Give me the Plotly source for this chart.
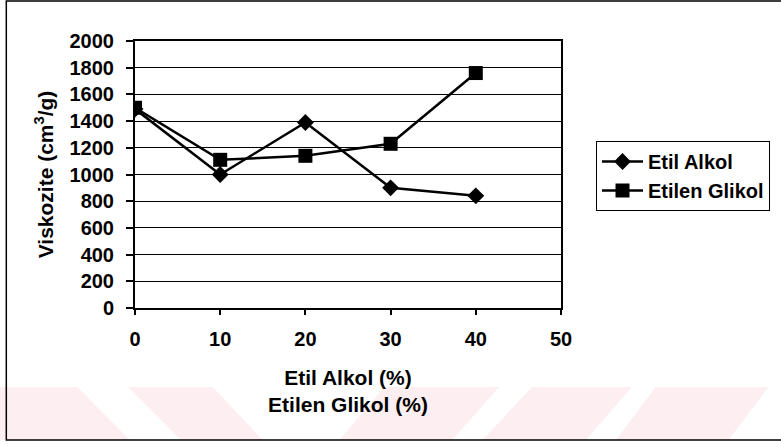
import plotly.graph_objects as go

# Viscosity vs. additive concentration
concentration = [0, 10, 20, 30, 40]
etil_alkol = [1490, 1000, 1390, 900, 840]
etilen_glikol = [1500, 1110, 1140, 1230, 1760]

x_ticks = [0, 10, 20, 30, 40, 50]
y_ticks = [0, 200, 400, 600, 800, 1000, 1200, 1400, 1600, 1800, 2000]

W, H = 781, 446
L, R, T, B = 135, 562, 41, 308


def px(x):
    return (x - L) / (R - L)


def py(y):
    return (B - y) / (B - T)


FONT = "Liberation Sans, Arial, sans-serif"

fig = go.Figure()
fig.add_trace(go.Scatter(
    x=concentration, y=etil_alkol, name="Etil Alkol", mode="lines+markers",
    line=dict(color="black", width=2.5),
    marker=dict(symbol="diamond", size=13, color="black"),
))
fig.add_trace(go.Scatter(
    x=concentration, y=etilen_glikol, name="Etilen Glikol", mode="lines+markers",
    line=dict(color="black", width=2.5),
    marker=dict(symbol="square", size=14, color="black"),
))

# pale diagonal band along the bottom of the page
stripes = [
    ((-60, 77), (-7, 130)),
    ((128, 213), (181, 263)),
    ((385, 500), (340, 453)),
    ((533, 633), (483, 587)),
    ((657, 770), (617, 730)),
]
top_y, bot_y = 387, 440
shapes = []
for (t0, t1), (b0, b1) in stripes:
    path = (f"M{px(t0)},{py(top_y)} L{px(t1)},{py(top_y)} "
            f"L{px(b1)},{py(bot_y)} L{px(b0)},{py(bot_y)} Z")
    shapes.append(dict(type="path", xref="paper", yref="paper", path=path,
                       fillcolor="#fdeef1", line=dict(width=0), layer="below"))

# outer chart frame
shapes.append(dict(type="rect", xref="paper", yref="paper",
                   x0=px(6), x1=px(790), y0=py(440), y1=py(1),
                   line=dict(color="black", width=1.5), layer="above"))

fig.update_layout(
    width=W, height=H,
    margin=dict(l=L, r=W - R, t=T, b=H - B),
    paper_bgcolor="white", plot_bgcolor="white",
    font=dict(family=FONT, color="black", size=20, weight=700),
    shapes=shapes,
    legend=dict(
        x=px(596), y=py(141), xanchor="left", yanchor="top",
        bordercolor="black", borderwidth=1, bgcolor="white",
        font=dict(family=FONT, size=20, weight=700, color="black"),
        itemwidth=41,
    ),
    xaxis=dict(
        range=[0, 50], tickvals=x_ticks, ticktext=[str(v) for v in x_ticks],
        showgrid=False, zeroline=False,
        showline=True, linecolor="black", linewidth=2, mirror=True,
        ticks="outside", ticklen=5, tickwidth=1.5, tickcolor="black",
        ticklabelstandoff=7,
        tickfont=dict(family=FONT, size=20, weight=700),
        title=dict(text="Etil Alkol (%)<br>Etilen Glikol (%)", standoff=21,
                   font=dict(family=FONT, size=21, weight=700)),
        automargin=False,
    ),
    yaxis=dict(
        range=[0, 2000], tickvals=y_ticks, ticktext=[str(v) for v in y_ticks],
        showgrid=True, gridcolor="black", gridwidth=1, zeroline=False,
        showline=True, linecolor="black", linewidth=2, mirror=True,
        ticks="outside", ticklen=7, tickwidth=1.5, tickcolor="black",
        ticklabelstandoff=8,
        tickfont=dict(family=FONT, size=20, weight=700),
        title=dict(text="Viskozite (cm<sup>3</sup>/g)", standoff=10,
                   font=dict(family=FONT, size=21, weight=700)),
        automargin=False,
    ),
)

fig.write_html("out.html")
